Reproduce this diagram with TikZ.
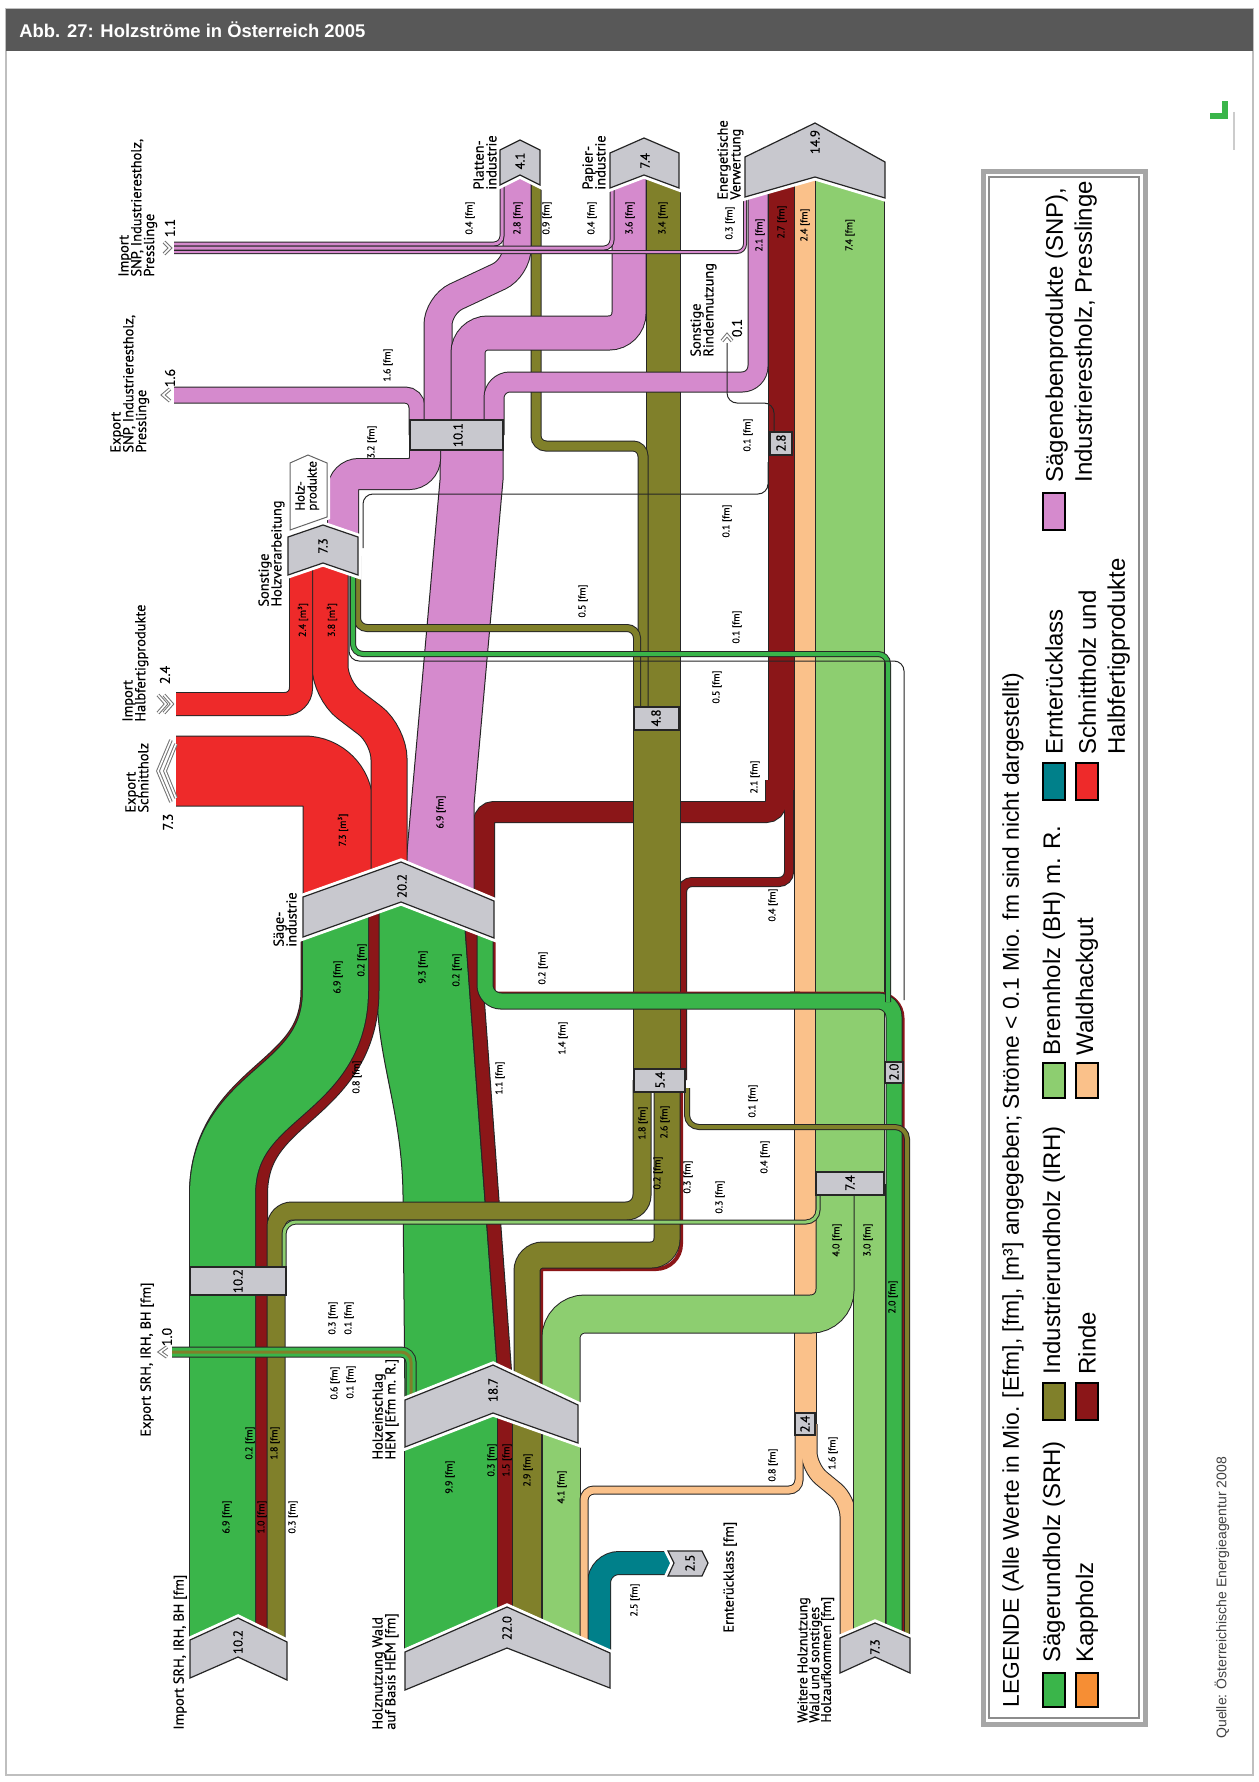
\documentclass[tikz,border=0pt]{standalone}
\usepackage{fontspec}
\setmainfont{Liberation Sans}
\newfontfamily\diafont[FakeBold=0.4]{PT Sans}
% enge Zeilen in mehrzeiligen Beschriftungen
\newcommand{\engzeilen}{\lineskiplimit=-5pt\relax\lineskip=0pt\relax}

% Farben der Sortimente
\definecolor{srh}{RGB}{58,181,74}
\definecolor{irh}{RGB}{128,128,42}
\definecolor{bh}{RGB}{141,206,112}
\definecolor{rinde}{RGB}{139,22,24}
\definecolor{kapp}{RGB}{246,142,52}
\definecolor{wald}{RGB}{250,193,138}
\definecolor{ernte}{RGB}{0,128,138}
\definecolor{schnitt}{RGB}{238,42,42}
\definecolor{snp}{RGB}{213,138,205}
\definecolor{kastengrau}{RGB}{200,200,206}
\definecolor{kopfgrau}{RGB}{88,88,88}

\tikzset{
  chev/.style={fill=kastengrau, draw=black!85, line width=0.6pt,
    preaction={draw=white, line width=3.5pt}},
  kasten/.style={fill=kastengrau, draw=black!85, line width=0.6pt},
  bez/.style={rotate=90, anchor=north west, align=left, inner sep=0pt,
    font=\diafont\fontsize{7.2}{6.4}\selectfont\engzeilen},
  wert/.style={rotate=90, inner sep=0pt, font=\diafont\fontsize{5}{5}\selectfont},
  zahl/.style={rotate=90, inner sep=0pt, font=\diafont\fontsize{6.5}{6.5}\selectfont},
  menge/.style={rotate=90, inner sep=0pt, font=\diafont\fontsize{7}{7}\selectfont},
  marke/.style={draw=black!55, double=white, double distance=0.8pt, line width=0.5pt},
  duenn/.style={draw=black!85, line width=0.5pt, rounded corners=5pt},
  legtext/.style={rotate=90, anchor=west, inner sep=0pt, font=\fontsize{12}{14.5}\selectfont},
  legfeld/.style={draw=black, line width=1pt},
}

% Strom = schwarzer Rand + Farbband (Breite in Pixeln)
\newcommand{\strangrand}[3][6pt]{\draw[rounded corners=#1, line width=#2*0.5pt+1pt, draw=black!85] #3;}
\newcommand{\strangfuell}[4][6pt]{\draw[rounded corners=#1, line width=#3*0.5pt, draw=#2] #4;}
\newcommand{\strang}[4][6pt]{\strangrand[#1]{#3}{#4}\strangfuell[#1]{#2}{#3}{#4}}
% Import- und Exportmarken
\newcommand{\ausmarke}[4]{\draw[marke] (#1+#4,#2-#3) -- (#1,#2) -- (#1+#4,#2+#3);}
\newcommand{\einmarke}[4]{\draw[marke] (#1-#4,#2-#3) -- (#1,#2) -- (#1-#4,#2+#3);}

\begin{document}
\begin{tikzpicture}[x=0.5pt, y=-0.5pt]
\useasboundingbox (0,0) rectangle (1258,1782);

% ----- Rahmen und Kopf -----
\fill[white] (0,0) rectangle (1258,1782);
\draw[black!25, line width=1pt] (6,9) rectangle (1253,1775);
\fill[kopfgrau] (6,9) rectangle (1253,51);
\node[anchor=west, text=white, inner sep=0pt, font=\bfseries\fontsize{9.2}{11}\selectfont] (titel) at (19,30) {Abb. 27: Holzströme in Österreich 2005};
\fill[srh] (1210,113) rectangle (1228,119);
\fill[srh] (1222,101) rectangle (1228,119);
\draw[black!20, line width=1pt] (1234,112) -- (1234,150);

% ----- Holznutzung Wald -> Holzeinschlag -----
\strang{srh}{92}{(451,1651) -- (451,1405)}
\strang{rinde}{14}{(505,1640) -- (505,1400)}
\strang{irh}{28}{(527,1640) -- (527,1405)}
\strang{bh}{37}{(561,1650) -- (561,1415)}
% Ernteruecklass
\strang[10pt]{ernte}{22}{(599,1665) -- (599,1563) -- (680,1563)}

% ----- Waldhackgut -----
\strangrand{21}{(805,1424) -- (805,160)}
\strangrand[5pt]{7}{(799,1424) -- (799,1490) -- (584,1490) -- (584,1660)}
\strangrand[8pt]{15}{(809,1424) -- (809,1468) -- (848,1500) -- (848,1652)}
\strangfuell{wald}{21}{(805,1424) -- (805,160)}
\strangfuell[5pt]{wald}{7}{(799,1424) -- (799,1490) -- (584,1490) -- (584,1660)}
\strangfuell[8pt]{wald}{15}{(809,1424) -- (809,1468) -- (848,1500) -- (848,1652)}

% ----- Brennholz -----
\strang{bh}{68}{(850,1184) -- (850,170)}
\strang{bh}{31}{(869,1645) -- (869,1184)}

% ----- Rinde zur Energie -----
\strangrand{25}{(781,165) -- (781,790)}
\strangrand[5pt]{20}{(484,920) -- (484,812) -- (776,812) -- (776,780)}
\strangrand[5pt]{8}{(789,780) -- (789,882) -- (682,882) -- (682,1080)}
\strangfuell{rinde}{25}{(781,165) -- (781,790)}
\strangfuell[5pt]{rinde}{20}{(484,920) -- (484,812) -- (776,812) -- (776,780)}
\strangfuell[5pt]{rinde}{8}{(789,780) -- (789,882) -- (682,882) -- (682,1080)}

% ----- Industrierundholz -----
\strang{irh}{46}{(657,1080) -- (657,718)}
\strang{irh}{33}{(663,718) -- (663,165)}
\strang[5pt]{irh}{9}{(643,718) -- (643,446) -- (536,446) -- (536,165)}

% ----- Saegenebenprodukte -----
\filldraw[fill=snp, draw=black!85, line width=0.5pt] (403,897) -- (440,480) -- (440,440) -- (503,440) -- (503,480) -- (474,805) -- (474,897) -- cycle;
\strang[8pt]{snp}{30}{(343,550) -- (343,474) -- (425,474) -- (425,440)}
\strang[6pt]{snp}{15}{(417,435) -- (417,395) -- (174,395)}
\strang[10pt]{snp}{27}{(438,435) -- (438,305) -- (517,268) -- (517,162)}
\strang[10pt]{snp}{33}{(468,435) -- (468,333) -- (629,333) -- (629,163)}
\strang[8pt]{snp}{19}{(494,435) -- (494,382) -- (758,382) -- (758,172)}

% ----- Schnittholz und Halbfertigprodukte -----
\strang[17pt]{schnitt}{69}{(338,905) -- (338,771) -- (176,771)}
\strang[12pt]{schnitt}{35}{(389,895) -- (389,735) -- (330,690) -- (330,550)}
\strang[8pt]{schnitt}{22}{(176,704) -- (301,704) -- (301,550)}

% ----- Holzeinschlag -> Saegeindustrie -----
\filldraw[fill=srh, draw=black!85, line width=0.5pt] (405,1405) -- (403,1195) .. controls (402,1110) and (377,1060) .. (377,990) -- (377,900) -- (463,900) -- (500,1405) -- cycle;
\filldraw[fill=rinde, draw=black!85, line width=0.5pt] (463,900) -- (477,900) -- (514,1405) -- (500,1405) -- cycle;

% ----- Import SRH, IRH, BH -----
\strangrand[0.1pt]{77}{(228.5,1648) -- (228.5,1195) .. controls (228.5,1090) and (340,1095) .. (340,990) -- (340,905)}
\strangfuell[0.1pt]{rinde}{77}{(228.5,1648) -- (228.5,1195) .. controls (228.5,1090) and (340,1095) .. (340,990) -- (340,905)}
\strang[0.1pt]{srh}{65}{(222.5,1648) -- (222.5,1195) .. controls (222.5,1090) and (335.5,1095) .. (335.5,990) -- (335.5,905)}
\strang[8pt]{irh}{17}{(276,1655) -- (276,1211) -- (642,1211) -- (642,1080)}

% ----- Holzeinschlag nach oben -----
\strangfuell[0.1pt]{rinde}{4}{(541,1410) -- (541,1269) -- (620,1269)}
\strangfuell[12.5pt]{rinde}{4}{(610,1269) -- (681,1269) -- (681,1080)}
\strang[8pt]{irh}{25}{(527,1405) -- (527,1255) -- (667,1255) -- (667,1080)}
\strang[12pt]{bh}{37}{(561,1415) -- (561,1314) -- (835,1314) -- (835,1184)}

% ----- Saegeindustrie -> Weitere Holznutzung -----
\strangfuell[0.1pt]{rinde}{3}{(494,918) -- (494,993) -- (800,993)}
\strangfuell[12.5pt]{rinde}{3}{(790,993) -- (903,993) -- (903,1652)}
\strang[8pt]{srh}{15}{(485,918) -- (485,1001) -- (894,1001) -- (894,1648)}
\strang[6pt]{irh}{4}{(687,1088) -- (687,1127) -- (907,1127) -- (907,1652)}
\strang[6pt]{bh}{3}{(284,1285) -- (284,1222) -- (818,1222) -- (818,1188)}

% ----- Sonstige Holzverarbeitung, duenne Stroeme -----
\strang[5pt]{irh}{6}{(357,556) -- (357,628) -- (637,628) -- (637,718)}
\strang[5pt]{srh}{4}{(353,556) -- (353,654) -- (888,654) -- (888,1002)}
\draw[duenn] (349,556) -- (349,661) -- (904,661) -- (904,1000);
\draw[duenn] (363,548) -- (363,494) -- (768,494) -- (768,462);
\draw[duenn] (727,343) -- (727,403) -- (774,403) -- (774,440);

% Import SNP
\strang[4pt]{snp}{3}{(174,244) -- (502,244) -- (502,165)}
\strang[4pt]{snp}{3}{(174,248) -- (612,248) -- (612,166)}
\strang[4pt]{snp}{2}{(174,252) -- (745,252) -- (745,178)}
% Export SRH, IRH, BH
\strang[5pt]{srh}{9}{(411,1420) -- (411,1352) -- (172,1352)}
\strangfuell[5pt]{irh}{3}{(411,1420) -- (411,1352) -- (172,1352)}

% ----- Knoten -----
\filldraw[chev] (190,1640) -- (238,1618) -- (287,1642) -- (287,1680) -- (238,1657) -- (190,1678) -- cycle;
\filldraw[chev] (405,1652) -- (507,1607) -- (610,1653) -- (610,1688) -- (507,1648) -- (405,1690) -- cycle;
\filldraw[chev] (405,1400) -- (493,1365) -- (578,1405) -- (578,1443) -- (493,1413) -- (405,1447) -- cycle;
\filldraw[chev] (303,897) -- (401,862) -- (494,901) -- (494,938) -- (401,902) -- (303,937) -- cycle;
\filldraw[chev] (288,537) -- (323,525) -- (358,537) -- (358,575) -- (323,563) -- (288,575) -- cycle;
\filldraw[chev] (840,1638) -- (875,1623) -- (910,1638) -- (910,1673) -- (875,1657) -- (840,1673) -- cycle;
\filldraw[chev] (500,150) -- (520,140) -- (540,150) -- (540,185) -- (520,175) -- (500,185) -- cycle;
\filldraw[chev] (610,153) -- (644,138) -- (679,153) -- (679,188) -- (644,175) -- (610,188) -- cycle;
\filldraw[chev] (745,157) -- (815,123) -- (885,162) -- (885,198) -- (815,177) -- (745,197) -- cycle;
\filldraw[chev] (668,1551) -- (702,1551) -- (708,1563) -- (702,1576) -- (668,1576) -- (674,1563) -- cycle;
\filldraw[fill=white, draw=black!60, line width=0.5pt, preaction={draw=white, line width=3pt}] (290,463) -- (308,455) -- (327,463) -- (327,517) -- (290,530) -- cycle;

\filldraw[kasten] (190,1267) rectangle (286,1295);
\filldraw[kasten] (410,420) rectangle (503,450);
\filldraw[kasten] (634,707) rectangle (679,730);
\filldraw[kasten] (634,1069) rectangle (685,1092);
\filldraw[kasten] (816,1172) rectangle (884,1195);
\filldraw[kasten] (885,1062) rectangle (903,1083);
\filldraw[kasten] (770,432) rectangle (792,455);
\filldraw[kasten] (795,1413) rectangle (815,1435);

% Knotenwerte
\node[zahl] (zimport) at (238,1642) {10.2};
\node[zahl] (zwald) at (507,1628) {22.0};
\node[zahl] (zeinschlag) at (493,1390) {18.7};
\node[zahl] (zsaege) at (402,886) {20.2};
\node[zahl] (zsonst) at (323,546) {7.3};
\node[zahl] (zweitere) at (875,1647) {7.3};
\node[zahl] (zplatten) at (520,161) {4.1};
\node[zahl] (zpapier) at (645,161) {7.4};
\node[zahl] (zenergie) at (815,142) {14.9};
\node[zahl] (zernte) at (690,1563) {2.5};
\node[zahl] (kimport) at (238,1281) {10.2};
\node[zahl] (ksnp) at (458,435) {10.1};
\node[zahl] (kirho) at (656,718) {4.8};
\node[zahl] (kirhu) at (660,1080) {5.4};
\node[zahl] (kbh) at (850,1183) {7.4};
\node[zahl] (ksrh) at (894,1072) {2.0};
\node[zahl] (krinde) at (781,443) {2.8};
\node[zahl] (kwald) at (805,1424) {2.4};

% Marken mit Mengen
\ausmarke{158}{771}{31}{13}
\ausmarke{165}{771}{27}{11}
\einmarke{172}{704}{9}{8}
\einmarke{166}{704}{9}{8}
\ausmarke{163}{395}{6}{7}
\einmarke{170}{248}{6}{6}
\ausmarke{160}{1352}{5}{7}
\draw[marke] (722,341) -- (727,335) -- (732,341);
\node[menge] (mschnitt) at (168,822) {7.3};
\node[menge] (mhalb) at (165,675) {2.4};
\node[menge] (mexsnp) at (170,378) {1.6};
\node[menge] (mimsnp) at (170,228) {1.1};
\node[menge] (mexsrh) at (167,1337) {1.0};
\node[menge] (mrinde) at (737,328) {0.1};

% Beschriftung der Knoten
\node[bez] (nimport) at (173,1730) {Import SRH, IRH, BH [fm]};
\node[bez] (nexport) at (140,1437) {Export SRH, IRH, BH [fm]};
\node[bez] (nwald) at (372,1730) {Holznutzung Wald\\auf Basis HEM [fm]};
\node[bez] (neinschlag) at (372,1460) {Holzeinschlag\\HEM [Efm m. R.]};
\node[bez] (nernte) at (723,1633) {Ernterücklass [fm]};
\node[bez, font=\diafont\fontsize{7}{5.9}\selectfont\engzeilen] (nweitere) at (797,1723) {Weitere Holznutzung\\Wald und sonstiges\\Holzaufkommen [fm]};
\node[bez] (nsaege) at (273,947) {Säge-\\industrie};
\node[bez] (nsonst) at (258,607) {Sonstige\\Holzverarbeitung};
\node[bez] (nplatten) at (473,190) {Platten-\\industrie};
\node[bez] (npapier) at (582,190) {Papier-\\industrie};
\node[bez] (nenergie) at (717,200) {Energetische\\Verwertung};
\node[bez] (nexsnp) at (110,453) {Export\\SNP, Industrierestholz,\\Presslinge};
\node[bez] (nimsnp) at (118,277) {Import\\SNP, Industrierestholz,\\Presslinge};
\node[bez] (nimhalb) at (122,722) {Import\\Halbfertigprodukte};
\node[bez] (nexschnitt) at (125,813) {Export\\Schnittholz};
\node[bez] (nrinde) at (690,357) {Sonstige\\Rindennutzung};
\node[bez, font=\diafont\fontsize{6.5}{6}\selectfont\engzeilen] (nholzprod) at (295,511) {Holz-\\produkte};

% Mengen an den Stroemen
\foreach \x/\y/\w [count=\i] in {227/1517/6.9, 250/1443/0.2, 262/1517/1.0, 275/1443/1.8, 293/1517/0.3,
  335/1383/0.6, 351/1382/0.1, 333/1318/0.3, 349/1318/0.1, 450/1477/9.9, 492/1460/0.3, 507/1460/1.5,
  528/1470/2.9, 562/1487/4.1, 773/1465/0.8, 635/1600/2.5, 833/1453/1.6, 837/1240/4.0, 868/1240/3.0,
  893/1297/2.0, 423/967/9.3, 338/977/6.9, 362/960/0.2, 357/1077/0.8, 500/1078/1.1, 457/970/0.2,
  543/968/0.2, 563/1038/1.4, 643/1123/1.8, 665/1122/2.6, 658/1173/0.2, 688/1177/0.3, 720/1197/0.3,
  753/1101/0.1, 765/1157/0.4, 583/601/0.5, 727/521/0.1, 737/627/0.1, 717/687/0.5, 755/777/2.1,
  773/905/0.4, 441/812/6.9, 372/442/3.2, 388/365/1.6, 748/435/0.1, 470/218/0.4, 518/218/2.8,
  547/218/0.9, 592/218/0.4, 630/218/3.6, 663/218/3.4, 730/223/0.3, 760/235/2.1, 782/222/2.7,
  805/225/2.4, 850/235/7.4}
  \node[wert] (wert\i) at (\x,\y) {\w~[fm]};
\node[wert] (wm1) at (303,620) {2.4 [m³]};
\node[wert] (wm2) at (332,620) {3.8 [m³]};
\node[wert] (wm3) at (343,830) {7.3 [m³]};

% ----- Legende -----
\draw[black!35, line width=2.5pt] (983,171) rectangle (1145,1724);
\draw[black!45, line width=0.6pt] (989,177) rectangle (1139,1718);
\node[legtext, font=\fontsize{11.4}{13}\selectfont] (legkopf) at (1013,1708) {LEGENDE (Alle Werte in Mio. [Efm], [fm], [m³] angegeben; Ströme < 0.1 Mio. fm sind nicht dargestellt)};
\filldraw[legfeld, fill=srh] (1043,1673) rectangle (1065,1707);
\filldraw[legfeld, fill=irh] (1043,1383) rectangle (1065,1420);
\filldraw[legfeld, fill=bh] (1043,1063) rectangle (1065,1098);
\filldraw[legfeld, fill=ernte] (1043,763) rectangle (1065,800);
\filldraw[legfeld, fill=snp] (1043,493) rectangle (1065,530);
\filldraw[legfeld, fill=kapp] (1076,1673) rectangle (1098,1707);
\filldraw[legfeld, fill=rinde] (1076,1383) rectangle (1098,1420);
\filldraw[legfeld, fill=wald] (1076,1063) rectangle (1098,1098);
\filldraw[legfeld, fill=schnitt] (1076,763) rectangle (1098,800);
\node[legtext] (lsrh) at (1054,1663) {Sägerundholz (SRH)};
\node[legtext] (lirh) at (1054,1375) {Industrierundholz (IRH)};
\node[legtext] (lbh) at (1054,1056) {Brennholz (BH) m. R.};
\node[legtext] (lernte) at (1054,755) {Ernterücklass};
\node[legtext, anchor=north west, align=left] (lsnp) at (1045,483) {Sägenebenprodukte (SNP),\\Industrierestholz, Presslinge};
\node[legtext] (lkapp) at (1087,1663) {Kappholz};
\node[legtext] (lrinde) at (1087,1375) {Rinde};
\node[legtext] (lwald) at (1087,1056) {Waldhackgut};
\node[legtext, anchor=north west, align=left] (lschnitt) at (1078,755) {Schnittholz und\\Halbfertigprodukte};

\node[rotate=90, anchor=west, inner sep=0pt, text=black!75, font=\fontsize{7}{8}\selectfont] (quelle) at (1222,1739) {Quelle: Österreichische Energieagentur 2008};

\end{tikzpicture}
\end{document}
